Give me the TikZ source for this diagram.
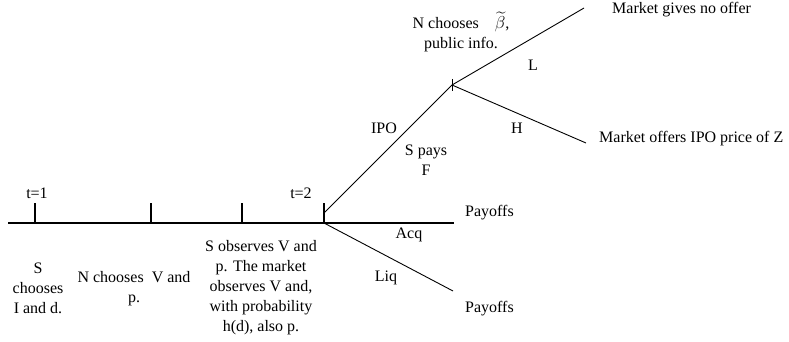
\documentclass[tikz,border=0pt]{standalone}
\usepackage{fontspec}
\setmainfont{Liberation Serif}
\usepackage{amsmath}
\begin{document}
\begin{tikzpicture}[x=1pt,y=-1pt,
  lbl/.style={inner sep=0pt,font=\fontsize{16}{20}\selectfont},
  blk/.style={lbl,align=center},
  timeline/.style={line width=1.8pt},
  tickmark/.style={line width=1.8pt},
  branch/.style={line width=0.9pt}]
\useasboundingbox (0,0) rectangle (789,342);
% timeline
\coordinate (L0) at (8,223);
\coordinate (L1) at (454,223);
\coordinate (k1) at (35,223);
\coordinate (k2) at (151,223);
\coordinate (k3) at (242,223);
\coordinate (k4) at (324,223);
\coordinate (k1t) at (35,203);
\coordinate (k2t) at (151,203);
\coordinate (k3t) at (242,203);
\coordinate (k4t) at (324,203);
\coordinate (ipo0) at (324,213);
\coordinate (v) at (452,85);
\coordinate (vt) at (452,79);
\coordinate (vb) at (452,91);
\coordinate (Lend) at (584,8);
\coordinate (Hend) at (586,143);
\coordinate (Qend) at (453,291);
\draw[timeline] (L0) -- (L1);
\foreach \k in {k1,k2,k3,k4} \draw[tickmark] (\k) -- (\k t);
\draw[branch] (ipo0) -- (v);
\draw[branch] (vt) -- (vb);
\draw[branch] (v) -- (Lend);
\draw[branch] (v) -- (Hend);
\draw[branch] (k4) -- (Qend);
% labels
\node[lbl] (t1) at (37,193) {t=1};
\node[lbl] (t2) at (301,193) {t=2};
\node[blk] (s1) at (38,288) {S\\chooses\\I and d.};
\node[blk] (n1) at (134,289) {N chooses\ \ V and\\p.};
\node[blk] (s2) at (261,288) {S observes V and\\p. The market\\observes V and,\\with probability\\h(d), also p.};
\node[lbl,anchor=west] (p1) at (465,213) {Payoffs};
\node[lbl,anchor=west] (p2) at (465,309) {Payoffs};
\node[lbl] (acq) at (409,235) {Acq};
\node[lbl] (liq) at (386,278) {Liq};
\node[lbl] (ipo) at (384,128) {IPO};
\node[blk] (sp) at (426,160) {S pays\\F};
\node[lbl] (h) at (517,128) {H};
\node[lbl] (l) at (533,65) {L};
\node[blk] (nc) at (461,32) {N chooses\quad$\widetilde{\beta}$,\\public info.};
\node[lbl,anchor=west] (m1) at (612,10) {Market gives no offer};
\node[lbl,anchor=west] (m2) at (599,139) {Market offers IPO price of Z};
\end{tikzpicture}
\end{document}
